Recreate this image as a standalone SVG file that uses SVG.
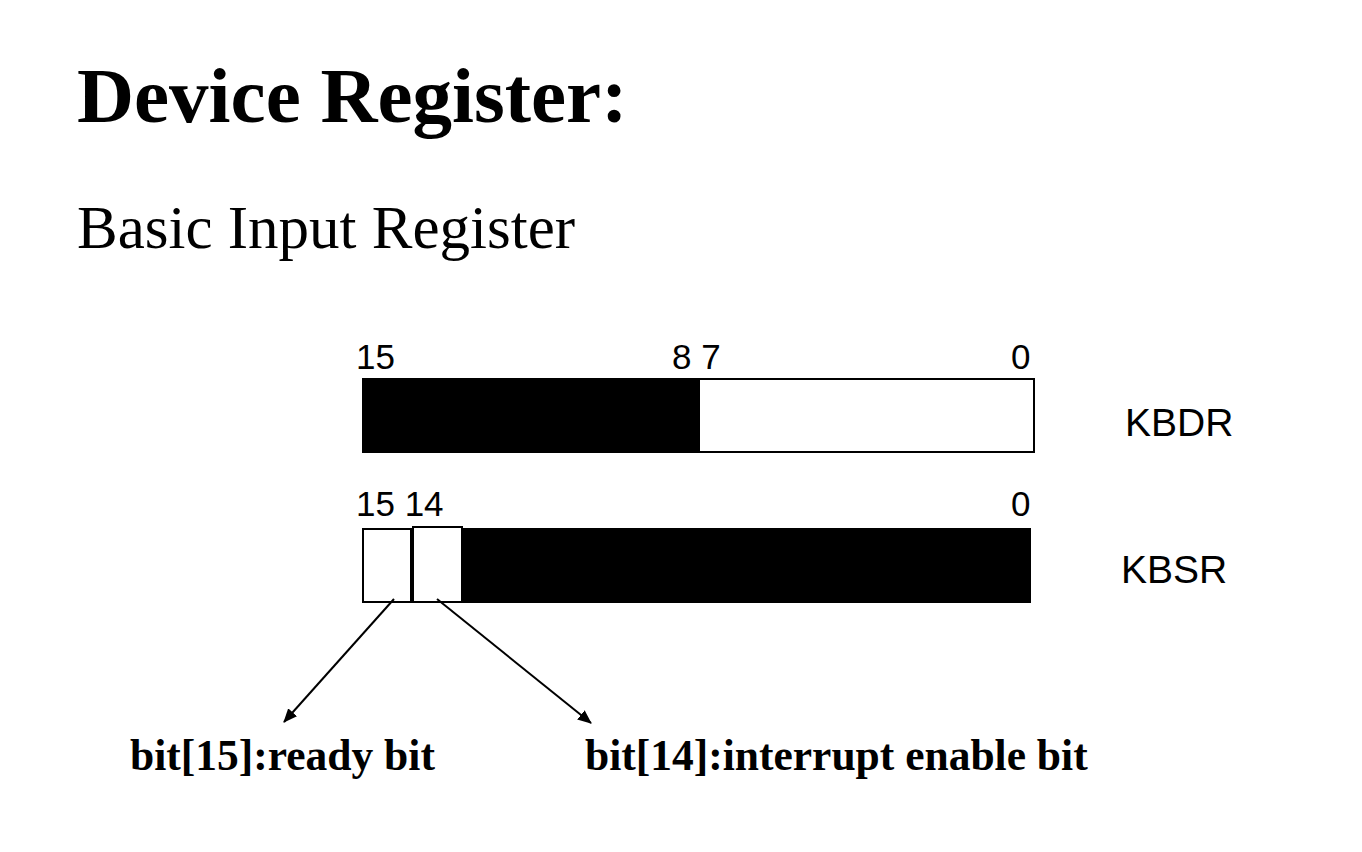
<svg xmlns="http://www.w3.org/2000/svg" width="1362" height="852" viewBox="0 0 1362 852">
<style>
.title{font-family:"Liberation Serif",serif;font-weight:bold;font-size:79px;fill:#000}
.sub{font-family:"Liberation Serif",serif;font-size:61px;fill:#000}
.num{font-family:"Liberation Sans",sans-serif;font-size:35px;fill:#000}
.reg{font-family:"Liberation Sans",sans-serif;font-size:39px;fill:#000}
.lbl{font-family:"Liberation Serif",serif;font-weight:bold;font-size:43.5px;fill:#000}
.box{fill:#fff;stroke:#000;stroke-width:2}
.blk{fill:#000;stroke:#000;stroke-width:2}
.conn{stroke:#000;stroke-width:2;fill:none;marker-end:url(#arr)}
</style>
<defs>
<marker id="arr" markerWidth="14" markerHeight="12" refX="13" refY="6" orient="auto" markerUnits="userSpaceOnUse" viewBox="0 0 14 12">
<path d="M0,0 L14,6 L0,12 z" fill="#000"/>
</marker>
</defs>
<rect width="1362" height="852" fill="#fff"/>
<text class="title" x="77" y="122">Device Register:</text>
<text class="sub" x="77" y="248">Basic Input Register</text>
<g id="kbdr">
<rect class="box" x="363" y="379" width="671" height="73"/>
<rect class="blk" x="363" y="379" width="336" height="73"/>
<text class="num" x="356" y="369">15</text>
<text class="num" x="672" y="369">8 7</text>
<text class="num" x="1011" y="369">0</text>
<text class="reg" x="1125" y="436">KBDR</text>
</g>
<g id="kbsr">
<rect class="blk" x="462" y="529" width="568" height="73"/>
<rect class="box" x="363" y="529" width="48" height="73"/>
<rect class="box" x="413" y="527" width="49" height="75"/>
<text class="num" x="356" y="516">15 14</text>
<text class="num" x="1011" y="516">0</text>
<text class="reg" x="1121" y="583">KBSR</text>
</g>
<g id="connectors">
<line class="conn" x1="394" y1="599" x2="284" y2="722"/>
<line class="conn" x1="437" y1="599" x2="591" y2="723"/>
</g>
<g id="labels">
<text class="lbl" x="130" y="770">bit[15]:ready bit</text>
<text class="lbl" x="585" y="770">bit[14]:interrupt enable bit</text>
</g>
</svg>
